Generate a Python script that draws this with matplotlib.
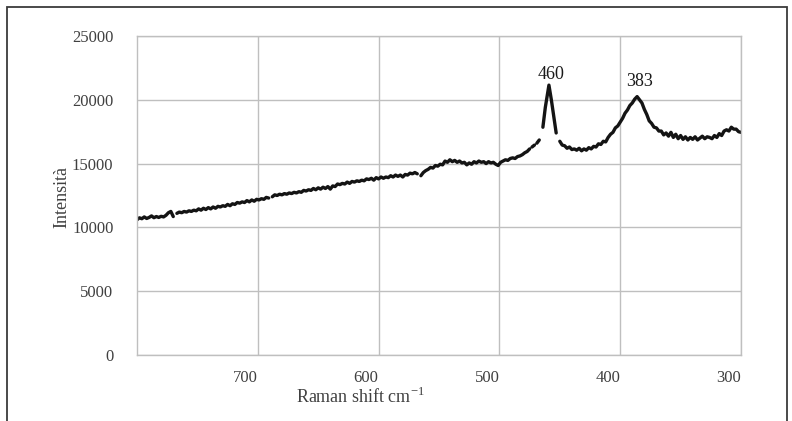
import numpy as np
import matplotlib
matplotlib.use("Agg")
import matplotlib.pyplot as plt
from matplotlib.patches import Rectangle

plt.rcParams['font.family'] = ['Liberation Serif', 'DejaVu Serif']
plt.rcParams['mathtext.fontset'] = 'custom'
plt.rcParams['mathtext.rm'] = 'Liberation Serif'

# Raman spectrum (nan = break in the drawn line)
nan = np.nan
shift = [800, 798, 796, 794, 792, 790, 788, 786, 784, 782, 780, 778, 776, 774, 772, 770, 768.5,
         767, 765, 763, 761, 759, 757, 755, 753, 751, 749, 747, 745, 743, 741, 739, 737, 735, 733, 731, 729,
         727, 725, 723, 721, 719, 717, 715, 713, 711, 709, 707, 705, 703, 701, 699, 697, 695, 693, 691, 690,
         688, 686, 684, 682, 680, 678, 676, 674, 672, 670, 668, 666, 664, 662, 660, 658, 656, 654, 652, 650,
         648, 646, 644, 642, 640, 638, 636, 634, 632, 630, 628, 626, 624, 622, 620, 618, 616, 614, 612, 610,
         608, 606, 604, 602, 600, 598, 596, 594, 592, 590, 588, 586, 584, 582, 580, 578, 576, 574, 572, 570,
         568, 567,
         565, 563, 561, 559, 557, 555, 553, 551, 549, 547, 545, 543, 541, 539, 537, 535, 533, 531, 529, 527,
         525, 523, 521, 519, 517, 515, 513, 511, 509, 507, 505, 503, 501, 499, 497, 495, 493, 491, 489, 487,
         485, 483, 481, 479, 477, 475, 474, 473, 471, 470, 469, 467, 466, 465, 464.5,
         464, 462, 459, 457, 455, 453, 452,
         450, 448, 446, 444, 442, 440, 438, 436, 434, 432, 430, 428, 426, 424, 422, 420, 418, 416, 414, 412,
         410, 408, 406, 404, 402, 400, 398, 396, 394, 392, 390, 388, 386, 384, 382, 380, 378, 376, 374, 372,
         370, 368, 366, 364, 362, 360, 358, 356, 354, 352, 350, 348, 346, 344, 342, 340, 338, 336, 334, 332,
         330, 328, 326, 324, 322, 320, 318, 316, 314, 312, 310, 308, 306, 304, 302, 300]
intensity = [10600, 10750, 10680, 10820, 10700, 10780, 10900, 10760, 10850, 10780, 10870, 10820, 10950,
             11150, 11250, 10850, nan,
             11100, 11200, 11150, 11250, 11200, 11300, 11250, 11350, 11300, 11450, 11350, 11500, 11400, 11550,
             11450, 11600, 11500, 11650, 11600, 11700, 11650, 11800, 11700, 11850, 11800, 11950, 11900, 12000,
             11950, 12100, 12000, 12150, 12050, 12200, 12150, 12250, 12200, 12350, 12300, nan,
             12400, 12550, 12500, 12600, 12550, 12650, 12600, 12700, 12650, 12750, 12700, 12800, 12750, 12900,
             12850, 12950, 12900, 13050, 12950, 13100, 13000, 13150, 13050, 13200, 13000, 13250, 13200, 13400,
             13350, 13450, 13400, 13550, 13450, 13600, 13550, 13650, 13600, 13700, 13650, 13800, 13750, 13850,
             13700, 13900, 13800, 13950, 13850, 13950, 13900, 14050, 13950, 14100, 14000, 14100, 13950, 14150,
             14100, 14250, 14200, 14300, 14200, nan,
             14050, 14300, 14450, 14550, 14700, 14650, 14850, 14800, 14950, 14900, 15200, 15100, 15300, 15150,
             15250, 15100, 15200, 15050, 15100, 14900, 15050, 14950, 15150, 15050, 15200, 15100, 15150, 15000,
             15150, 15050, 15100, 14950, 14850, 15100, 15200, 15300, 15250, 15400, 15450, 15400, 15550, 15600,
             15700, 15850, 15950, 16150, nan, 16300, 16450, nan, 16600, 16850, nan, 17050, nan,
             17850, 19400, 21150, 20000, 18700, 17400, nan,
             16750, 16450, 16400, 16200, 16300, 16100, 16150, 16050, 16200, 16000, 16150, 16050, 16250, 16150,
             16350, 16300, 16550, 16500, 16750, 16700,
             17050, 17300, 17450, 17800, 17950, 18250, 18550, 18950, 19200, 19550, 19750, 20050, 20250, 20000,
             19750, 19250, 18850, 18350, 18150, 17850,
             17800, 17550, 17550, 17250, 17400, 17150, 17450, 17050, 17300, 16950, 17200, 16900, 17100, 16850,
             17050, 16900, 17100, 16850, 17000, 17150,
             16950, 17100, 17050, 16950, 17200, 17050, 17350, 17200, 17550, 17650, 17550, 17850, 17700, 17700,
             17500, 17450]

peak_pos = [457, 384.3]
peak_y = [21950, 21450]
peak_labels = ['460', '383']

x_ticks = [700, 600, 500, 400, 300]
y_ticks = [0, 5000, 10000, 15000, 20000, 25000]

fig = plt.figure(figsize=(7.92, 4.21), dpi=100)
ax = fig.add_axes([0.173, 0.1568, 0.7626, 0.7577])

grid_c = '#bfbfbf'
text_c = '#404040'

ax.plot(shift, intensity, color='#141414', linewidth=2.4, solid_capstyle='round')
for xp, yp, lab in zip(peak_pos, peak_y, peak_labels):
    ax.text(xp, yp, lab, ha='center', va='center', fontsize=13, color='#1a1a1a')

ax.set_xlim(800, 300)
ax.set_ylim(0, 25000)
ax.set_xticks(x_ticks)
ax.set_yticks(y_ticks)
ax.set_xticklabels([str(t) for t in x_ticks], ha='right')
ax.grid(True, color=grid_c, linewidth=1)
ax.set_axisbelow(True)
for s in ax.spines.values():
    s.set_color(grid_c)
    s.set_linewidth(1)
ax.tick_params(axis='both', length=0, labelsize=12, labelcolor=text_c)
ax.tick_params(axis='y', pad=17)
ax.tick_params(axis='x', pad=11)

fig.text(62 / 792, 1 - 197 / 421, 'Intensità', rotation=90, ha='center', va='center',
         fontsize=13, color=text_c)
fig.text(360 / 792, 1 - 397 / 421, r'Raman shift cm$^{\mathrm{-1}}$', ha='center', va='center',
         fontsize=13, color=text_c)

# outer frame of the figure box
fig.patches.append(Rectangle((7 / 792, -0.05), 780 / 792, 1.05 - 7 / 421, transform=fig.transFigure,
                             fill=False, edgecolor='#3a3a3a', linewidth=1.3))

fig.savefig('out.png', dpi=100)
